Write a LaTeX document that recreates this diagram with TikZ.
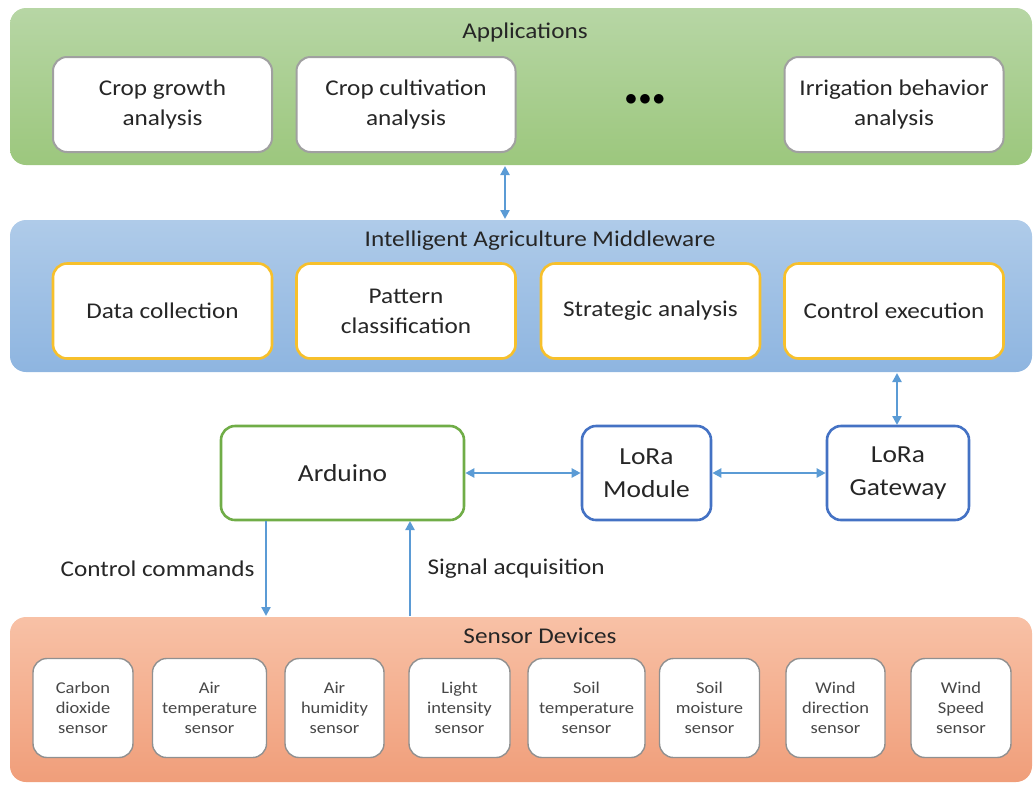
\documentclass[tikz,border=0pt]{standalone}
\usepackage{fontspec}
\setmainfont{Carlito}[FakeStretch=1.12]
\usetikzlibrary{arrows.meta}
\definecolor{arrowblue}{HTML}{5B9BD5}
\definecolor{gold}{HTML}{F7C02B}
\definecolor{ardgreen}{HTML}{70AD47}
\definecolor{lorablue}{HTML}{4472C4}
\definecolor{boxgray}{HTML}{A0A0A0}
\definecolor{txt}{HTML}{262626}
\tikzset{
  band/.style={rounded corners=16pt, draw=none},
  appbox/.style={draw=boxgray, line width=2pt, fill=white, rounded corners=14pt,
    minimum width=219pt, minimum height=95pt, align=center, inner sep=0pt,
    font=\fontsize{22.5}{30}\selectfont, text=txt},
  midbox/.style={appbox, draw=gold, line width=2.6pt},
  ardbox/.style={draw=ardgreen, line width=2.6pt, fill=white, rounded corners=14pt,
    minimum height=94pt, align=center, inner sep=0pt,
    font=\fontsize{24.5}{33}\selectfont, text=txt},
  lorabox/.style={ardbox, draw=lorablue},
  senbox/.style={draw=boxgray!90!black, line width=1.4pt, fill=white, rounded corners=14pt,
    minimum height=99pt, align=center, inner sep=0pt,
    font=\fontsize{16.5}{20}\selectfont, text=txt!85},
  title/.style={font=\fontsize{22.5}{26}\selectfont, text=txt},
  conn/.style={draw=arrowblue, line width=2.4pt,
    {Triangle[length=9pt,width=9pt]}-{Triangle[length=9pt,width=9pt]}},
  oneway/.style={draw=arrowblue, line width=2.4pt, -{Triangle[length=9pt,width=9pt]}},
  lab/.style={font=\fontsize{22.5}{26}\selectfont, text=txt}
}
\begin{document}
\begin{tikzpicture}[x=1pt,y=-1pt]
\useasboundingbox (0,0) rectangle (1035,785);
% bands
\path[band, top color={rgb,255:red,183;green,214;blue,165}, bottom color={rgb,255:red,156;green,199;blue,125}]
  (10,8) rectangle (1032,165);
\path[band, top color={rgb,255:red,175;green,203;blue,233}, bottom color={rgb,255:red,142;green,181;blue,224}]
  (10,220) rectangle (1032,372);
\path[band, top color={rgb,255:red,248;green,193;blue,166}, bottom color={rgb,255:red,240;green,158;blue,122}]
  (10,617) rectangle (1032,782);

% titles
\node[title] (apptitle) at (525,32) {Applications};
\node[title] (midtitle) at (540,241) {Intelligent Agriculture Middleware};
\node[title] (sentitle) at (540,636) {Sensor Devices};

% application boxes
\node[appbox] (a1) at (162.5,104.5) {Crop growth\\analysis};
\node[appbox] (a2) at (406,104.5) {Crop cultivation\\analysis};
\node[font=\fontsize{30}{30}\selectfont\bfseries] (dots) at (645,100) {$\bullet\!\bullet\!\bullet$};
\node[appbox] (a4) at (894,104.5) {Irrigation behavior\\analysis};

% middleware boxes
\node[midbox] (m1) at (162.5,311) {Data collection};
\node[midbox] (m2) at (406,311) {Pattern\\classification};
\node[midbox] (m3) at (650.5,311) {Strategic analysis};
\node[midbox] (m4) at (894,311) {Control execution};

% device layer
\node[ardbox, minimum width=243pt] (ard) at (342.5,473) {Arduino};
\node[lorabox, minimum width=129pt] (lmod) at (646.5,473) {LoRa\\Module};
\node[lorabox, minimum width=142pt] (lgw) at (898,473) {LoRa\\Gateway};

% sensor boxes
\node[senbox, minimum width=100pt] (s1) at (83,708) {Carbon\\dioxide\\sensor};
\node[senbox, minimum width=114pt] (s2) at (209.5,708) {Air\\temperature\\sensor};
\node[senbox, minimum width=99pt] (s3) at (334.5,708) {Air\\humidity\\sensor};
\node[senbox, minimum width=101pt] (s4) at (459.5,708) {Light\\intensity\\sensor};
\node[senbox, minimum width=117pt] (s5) at (586.5,708) {Soil\\temperature\\sensor};
\node[senbox, minimum width=100pt] (s6) at (709.5,708) {Soil\\moisture\\sensor};
\node[senbox, minimum width=99pt] (s7) at (835.5,708) {Wind\\direction\\sensor};
\node[senbox, minimum width=100pt] (s8) at (961,708) {Wind\\Speed\\sensor};

% connection anchors on bands
\coordinate (appbot) at (505,166);
\coordinate (midtop) at (505,219);
\coordinate (midbot) at (897,373);
\coordinate (gwtop) at (897,425);
\coordinate (senA) at (266,616);
\coordinate (senB) at (410,616);
\coordinate (ardA) at (266,521);
\coordinate (ardB) at (410,521);

% connectors
\draw[conn] (appbot) -- (midtop);
\draw[conn] (midbot) -- (gwtop);
\draw[conn] (ard.east) -- (lmod.west);
\draw[conn] (lmod.east) -- (lgw.west);
\draw[oneway] (ardA) -- (senA);
\draw[oneway] (senB) -- (ardB);

\node[lab, anchor=east] (cc) at (258,569) {Control commands};
\node[lab, anchor=west] (sa) at (424,569) {Signal acquisition};
\end{tikzpicture}
\end{document}
